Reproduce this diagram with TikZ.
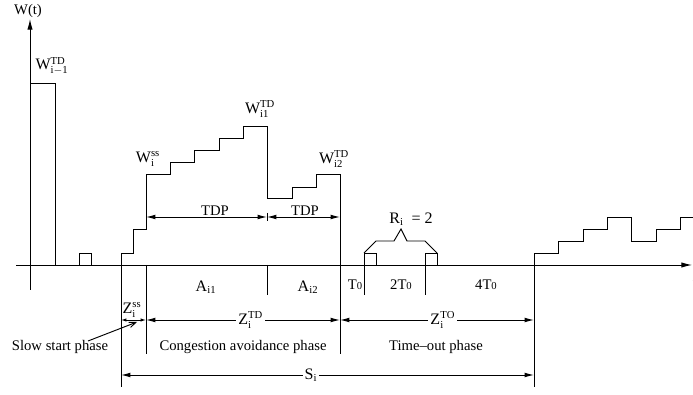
\documentclass[tikz,border=0pt]{standalone}
\usepackage{fontspec}
\setmainfont{Liberation Serif}
\usetikzlibrary{arrows.meta}
\newcommand{\tnull}{T{\fontsize{8}{9}\selectfont 0}}
\begin{document}
\begin{tikzpicture}[x=0.75pt,y=-0.75pt,line width=0.7pt,
  every node/.style={font=\fontsize{11}{13}\selectfont},
  biglabel/.style={font=\fontsize{12}{14}\selectfont},
  dim/.style={{Latex[length=7pt,width=3.5pt]}-{Latex[length=7pt,width=3.5pt]}},
  smalldim/.style={{Latex[length=4pt,width=2.5pt]}-{Latex[length=4pt,width=2.5pt]}},
  gaplabel/.style={fill=white,inner sep=1.5pt}]
\useasboundingbox (0,0) rectangle (693,395);

\coordinate (ybot) at (30,290);
\coordinate (ytop) at (30,19);
\coordinate (xleft) at (16,265);
\coordinate (xright) at (692,265);
\draw[-{Latex[length=8pt,width=4pt]}] (ybot) -- (ytop);
\draw[-{Latex[length=8pt,width=4pt]}] (xleft) -- (xright);
\node (wt) at (28,11) {W(t)};
\node (t) at (695,283) {t};

\draw (30,83) -- (55,83) -- (55,265);
\draw (79,265) -- (79,253) -- (91,253) -- (91,265);
\draw (121,387) -- (121,253) -- (133,253) -- (133,229) -- (146,229) -- (146,174)
  -- (170,174) -- (170,162) -- (194,162) -- (194,150) -- (219,150) -- (219,138)
  -- (243,138) -- (243,126) -- (267,126) -- (267,198) -- (292,198) -- (292,187)
  -- (316,187) -- (316,174) -- (340,174) -- (340,354);
\draw (146,265) -- (146,354);
\draw (267,265) -- (267,295);
\draw (364,295) -- (364,253) -- (376,253) -- (376,265);
\draw (425,295) -- (425,253) -- (437,253) -- (437,265);
\draw (364,253) -- (376,241) -- (394,241) -- (401,229) -- (407,241) -- (425,241) -- (437,253);
\draw (534,387) -- (534,253) -- (558,253) -- (558,241) -- (583,241) -- (583,229)
  -- (607,229) -- (607,217) -- (631,217) -- (631,241) -- (656,241) -- (656,229)
  -- (680,229) -- (680,217) -- (693,217);

\node[biglabel] (wprev) at (52,66) {$\mathrm{W}^{\mathrm{TD}}_{\mathrm{i-1}}$};
\node[biglabel] (wss) at (148,159) {$\mathrm{W}^{\mathrm{ss}}_{\mathrm{i}}$};
\node[biglabel] (wione) at (260,109) {$\mathrm{W}^{\mathrm{TD}}_{\mathrm{i1}}$};
\node[biglabel] (witwo) at (334,159) {$\mathrm{W}^{\mathrm{TD}}_{\mathrm{i2}}$};
\node[biglabel] (ri) at (411,219) {$\mathrm{R}_{\mathrm{i}}$\ \ = 2};

\coordinate (tdpa) at (146,217);
\coordinate (tdpb) at (267,217);
\coordinate (tdpc) at (340,217);
\draw[dim] (tdpa) -- node[pos=0.57,above,inner sep=0.5pt] (tdpone) {TDP} (tdpb);
\draw[dim] (tdpb) -- node[pos=0.52,above,inner sep=0.5pt] (tdptwo) {TDP} (tdpc);
\draw (267,213) -- (267,221);

\node[biglabel] (aione) at (206,287) {$\mathrm{A}_{\mathrm{i1}}$};
\node[biglabel] (aitwo) at (308,287) {$\mathrm{A}_{\mathrm{i2}}$};
\node (tone) at (355,285) {\tnull};
\node (ttwo) at (401,285) {2\tnull};
\node (tfour) at (486,285) {4\tnull};

\coordinate (zssa) at (121,320);
\coordinate (zssb) at (146,320);
\coordinate (ztdb) at (340,320);
\coordinate (ztob) at (534,320);
\draw[smalldim] (zssa) -- (zssb);
\node[biglabel] (zss) at (132,310) {$\mathrm{Z}^{\mathrm{ss}}_{\mathrm{i}}$};
\draw[dim] (zssb) -- node[pos=0.54,gaplabel,biglabel] (ztd) {$\mathrm{Z}^{\mathrm{TD}}_{\mathrm{i}}$} (ztdb);
\draw[dim] (ztdb) -- node[pos=0.53,gaplabel,biglabel] (zto) {$\mathrm{Z}^{\mathrm{TO}}_{\mathrm{i}}$} (ztob);

\node (slow) at (60,347) {Slow start phase};
\node (cong) at (243,347) {Congestion avoidance phase};
\node (tout) at (436,347) {Time--out phase};
\coordinate (ssptr) at (137,322);
\draw[-{Straight Barb[length=5pt,width=4pt]}] (88,341) -- (ssptr);

\coordinate (sa) at (121,375);
\coordinate (sb) at (534,375);
\draw[dim] (sa) -- node[pos=0.46,gaplabel,biglabel] (si) {$\mathrm{S}_{\mathrm{i}}$} (sb);
\end{tikzpicture}
\end{document}
